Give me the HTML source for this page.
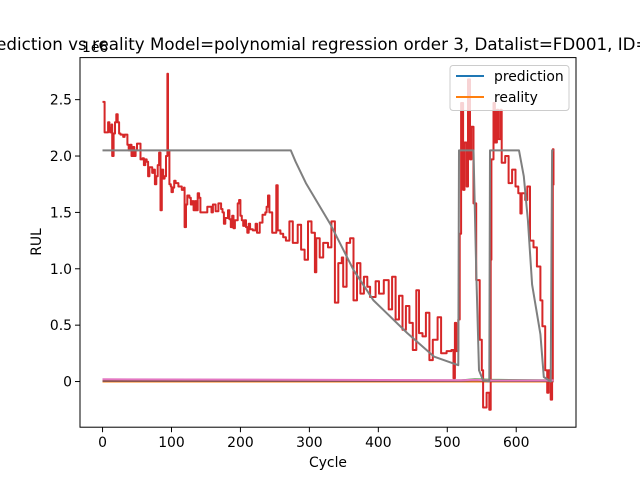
<!DOCTYPE html>
<html><head><meta charset="utf-8"><style>
body{margin:0;background:#fff}
svg text{font-family:"DejaVu Sans","Liberation Sans",sans-serif;fill:#000}
</style></head><body>
<svg id="chart" width="640" height="480" viewBox="0 0 640 480">
<rect width="640" height="480" fill="#fff"/>
<g id="marks"></g>
<g id="axes"></g>
<text x="320" y="50" text-anchor="middle" font-size="16.7" style="white-space:pre">Prediction vs reality Model=polynomial regression order 3, Datalist=FD001, ID=1</text>
<text x="82" y="52" font-size="13.9">1e6</text>
<text x="328" y="467" text-anchor="middle" font-size="13.9">Cycle</text>
<text transform="translate(41,242) rotate(-90)" text-anchor="middle" font-size="13.9">RUL</text>
<g>
<rect x="450" y="65.5" width="119" height="45" rx="3" fill="#fff" fill-opacity="0.8" stroke="#ccc"/>
<line x1="456" y1="76" x2="484" y2="76" stroke="#1f77b4" stroke-width="2"/>
<text x="494" y="81" font-size="13.9">prediction</text>
<line x1="456" y1="97" x2="484" y2="97" stroke="#ff7f0e" stroke-width="2"/>
<text x="494" y="102" font-size="13.9">reality</text>
</g>
</svg>
<script>
const xTicks=[0,100,200,300,400,500,600];
const yTicks=[0,0.5,1.0,1.5,2.0,2.5];
const yTickLabels=["0","0.5","1.0","1.5","2.0","2.5"];
const redX=[0,2,3,6,8,10,11,13,14,16,18,20,22,24,26,30,32,36,38,40,42,44,46,48,50,53,55,58,60,62,64,66,68,70,72,74,76,78,80,82,84,86,88,90,92,94,95,97,99,100,102,104,106,110,115,118,119,121,123,126,128,130,132,134,136,138,140,142,150,152,156,158,160,164,168,172,174,176,178,182,184,186,188,190,192,196,198,200,202,204,206,208,210,212,214,218,222,224,228,232,236,238,240,242,244,246,250,252,254,258,262,266,271,276,283,288,293,298,303,308,310,315,320,327,332,337,342,347,349,354,359,364,369,374,379,384,388,396,401,408,415,420,425,430,435,440,445,450,455,459,464,469,474,479,486,491,499,506,509,511,513,516,518,520,523,525,528,530,533,535,538,542,547,550,552,557,561,563,564,567,569,572,574,577,579,584,589,594,599,603,606,608,613,616,620,625,630,635,638,642,645,647,650,652,653,654];
const redY=[2.48,2.48,2.21,2.21,2.30,2.25,2.21,2.28,2.0,2.2,2.3,2.37,2.30,2.20,2.19,2.17,2.19,2.10,2.05,2.10,2.0,2.08,2.0,2.05,2.11,2.11,1.97,1.98,1.92,1.97,1.95,1.82,1.90,1.90,1.85,1.88,1.75,1.82,1.92,2.03,1.52,1.88,1.80,1.82,2.0,2.73,2.05,1.75,1.73,1.68,1.72,1.78,1.76,1.73,1.70,1.72,1.37,1.57,1.65,1.63,1.57,1.60,1.52,1.60,1.52,1.67,1.63,1.50,1.50,1.55,1.55,1.50,1.57,1.51,1.58,1.53,1.50,1.40,1.45,1.52,1.44,1.37,1.47,1.36,1.43,1.58,1.61,1.47,1.43,1.38,1.43,1.37,1.32,1.40,1.35,1.34,1.40,1.32,1.41,1.48,1.50,1.55,1.65,1.50,1.50,1.32,1.32,1.74,1.34,1.31,1.28,1.25,1.42,1.23,1.39,1.17,1.08,1.42,1.32,0.97,1.27,1.10,1.23,1.19,1.42,0.70,1.05,1.10,0.84,1.23,1.27,0.72,1.05,0.78,0.93,0.84,0.75,0.89,0.78,0.90,0.64,0.93,0.55,0.76,0.46,0.67,0.52,0.28,0.81,0.43,0.40,0.61,0.19,0.37,0.57,0.25,0.27,0.28,0.03,0.52,0.27,0.55,1.31,2.47,1.70,2.12,1.73,2.68,1.97,2.26,1.58,0.90,0.37,0.10,-0.23,-0.10,-0.25,1.08,1.97,2.47,2.12,2.41,2.15,2.41,1.94,2.0,1.76,1.88,1.73,1.67,1.49,1.67,1.61,1.73,1.25,1.19,1.02,0.72,0.49,0.10,-0.10,0.10,-0.16,0.0,2.06,1.74];
const grayX=[0,273,280,295,330,364,393,442,481,516,517,538,542,546,552,561,562,604,611,617,623,635,640,650,652,654];
const grayY=[2.05,2.05,1.95,1.76,1.40,0.99,0.72,0.43,0.22,0.145,2.05,2.05,0.99,0.10,0.01,0,2.05,2.05,1.82,1.43,0.86,0.42,0.04,0,2.05,2.05];
const flatX=[0,520,540,560,654];
const pinkY=[0.02,0.012,0.015,0.01,0.01];
const brownY=[0.005,0.005,0.01,0.005,0.005];
const blueY=[0,0,0,0,0];
const orangeY=[0,0,0,0,0];
const greenY=[0.01,0.01,0.02,0.015,0.01];

const L=80,R=576,T=57.6,B=427.2,xMin=-32.7,xMax=686.7,yMin=-0.405,yMax=2.873;
function sx(v){return L+(v-xMin)/(xMax-xMin)*(R-L);}
function sy(v){return B-(v-yMin)/(yMax-yMin)*(B-T);}
const NS="http://www.w3.org/2000/svg";
const marks=document.getElementById('marks');
const axes=document.getElementById('axes');
function line(xs,ys,color,name,step){
  const pts=[];
  xs.forEach((x,i)=>{
    if(step&&i>0) pts.push(sx(x).toFixed(1)+','+sy(ys[i-1]).toFixed(1));
    pts.push(sx(x).toFixed(1)+','+sy(ys[i]).toFixed(1));
  });
  const p=document.createElementNS(NS,'polyline');
  p.setAttribute('points',pts.join(' '));
  p.setAttribute('fill','none');p.setAttribute('stroke',color);p.setAttribute('stroke-width','2');
  p.setAttribute('stroke-linejoin','round');
  
  
  marks.appendChild(p);
}
line(flatX,blueY,'#1f77b4','prediction-line');
line(flatX,orangeY,'#ff7f0e','reality-line');
line(flatX,greenY,'#2ca02c','series-green-line');
line(redX,redY,'#d62728','series-red-line',true);
line(flatX,brownY,'#8c564b','series-brown-line');
line(flatX,pinkY,'#e377c2','series-pink-line');
line(grayX,grayY,'#7f7f7f','series-gray-line');

const fr=document.createElementNS(NS,'rect');
fr.setAttribute('x',L);fr.setAttribute('y',T);fr.setAttribute('width',R-L);fr.setAttribute('height',B-T);
fr.setAttribute('fill','none');fr.setAttribute('stroke','#000');fr.setAttribute('stroke-width','1');


axes.appendChild(fr);
xTicks.forEach(v=>{
  const x=sx(v);
  const t=document.createElementNS(NS,'line');
  t.setAttribute('x1',x);t.setAttribute('x2',x);t.setAttribute('y1',B);t.setAttribute('y2',B+5);t.setAttribute('stroke','#000');
  
  
  axes.appendChild(t);
  const s=document.createElementNS(NS,'text');
  s.setAttribute('x',x);s.setAttribute('y',B+20);s.setAttribute('text-anchor','middle');s.setAttribute('font-size','13.9');
  s.textContent=String(v);
  
  
  axes.appendChild(s);
});
yTicks.forEach((v,i)=>{
  const y=sy(v);
  const t=document.createElementNS(NS,'line');
  t.setAttribute('x1',L-5);t.setAttribute('x2',L);t.setAttribute('y1',y);t.setAttribute('y2',y);t.setAttribute('stroke','#000');
  
  
  axes.appendChild(t);
  const s=document.createElementNS(NS,'text');
  s.setAttribute('x',L-8);s.setAttribute('y',y+5);s.setAttribute('text-anchor','end');s.setAttribute('font-size','13.9');
  s.textContent=yTickLabels[i];
  
  
  axes.appendChild(s);
});
</script>
</body></html>
